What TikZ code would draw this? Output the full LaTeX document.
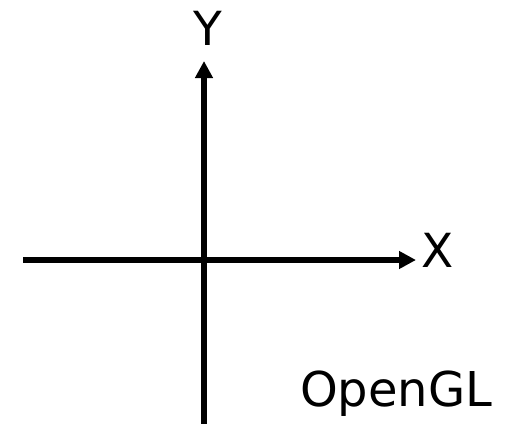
\documentclass[tikz,border=0pt]{standalone}
\usepackage{fontspec}
\setmainfont{DejaVu Sans}
\usetikzlibrary{arrows.meta}
\begin{document}
\begin{tikzpicture}[x=1pt,y=-1pt,
  axis/.style={line width=6.3pt,-{Triangle[length=17pt,width=17pt]}},
  lbl/.style={inner sep=0pt,font=\fontsize{47}{50}\selectfont}]
\useasboundingbox (0,0) rectangle (505,423);
\coordinate (xl) at (23,260);
\coordinate (xr) at (416,260);
\coordinate (yb) at (204,426);
\coordinate (yt) at (204,61);
\draw[axis] (xl) -- (xr);
\draw[axis] (yb) -- (yt);
\node[lbl,anchor=base] (ylab) at (208,45) {Y};
\node[lbl,anchor=base west] (xlab) at (421,267) {X};
\node[lbl,anchor=base west,font=\fontsize{48}{50}\selectfont] (gl) at (300,406) {OpenGL};
\end{tikzpicture}
\end{document}
